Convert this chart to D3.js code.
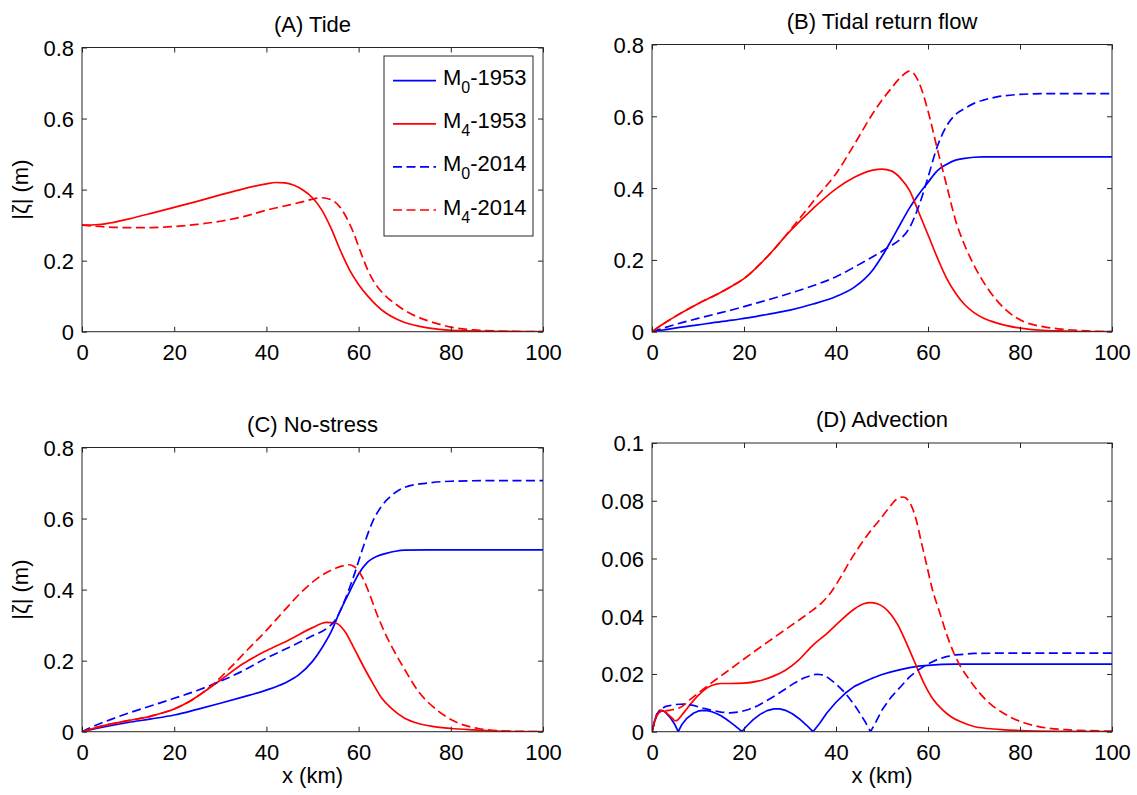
<!DOCTYPE html>
<html>
<head>
<meta charset="utf-8">
<script src="https://cdn.jsdelivr.net/npm/d3@7"></script>
<style>
  html, body { margin: 0; padding: 0; background: #fff; }
  svg { display: block; }
  text { font-family: "Liberation Sans", Arial, sans-serif; fill: #000; }
</style>
</head>
<body>
<svg id="chart" width="1137" height="795"></svg>
<script>
// ---------------- DATA ----------------
const panelTitles = ["(A) Tide", "(B) Tidal return flow", "(C) No-stress", "(D) Advection"];
const xTicks = [0, 20, 40, 60, 80, 100];
const xTickLabels = ["0", "20", "40", "60", "80", "100"];
const yTicksMain = [0, 0.2, 0.4, 0.6, 0.8];
const yTickLabelsMain = ["0", "0.2", "0.4", "0.6", "0.8"];
const yTicksAdv = [0, 0.02, 0.04, 0.06, 0.08, 0.1];
const yTickLabelsAdv = ["0", "0.02", "0.04", "0.06", "0.08", "0.1"];
const legendMain = ["M", "M", "M", "M"];
const legendSub = ["0", "4", "0", "4"];
const legendYear = ["-1953", "-1953", "-2014", "-2014"];
const xLabel = "x (km)";
const yLabel = "|\u03B6| (m)";

// (A) Tide
const A_M4_1953_x = [0,3,6,10,15,20,25,30,35,40,42,44,46,48,50,52,54,56,58,60,62,64,66,68,70,75,80,90,100];
const A_M4_1953_y = [0.300,0.301,0.306,0.317,0.333,0.350,0.367,0.385,0.402,0.416,0.420,0.419,0.412,0.398,0.377,0.343,0.292,0.230,0.175,0.133,0.100,0.073,0.052,0.037,0.026,0.011,0.004,0.001,0];
const A_M4_2014_x = [0,5,10,15,20,25,30,35,40,45,48,50,52,54,56,57,58,59,60,61,62,63,64,66,68,70,72,75,80,85,90,100];
const A_M4_2014_y = [0.300,0.295,0.293,0.293,0.296,0.302,0.311,0.324,0.342,0.357,0.366,0.373,0.377,0.372,0.350,0.330,0.305,0.275,0.240,0.205,0.173,0.148,0.128,0.099,0.078,0.060,0.046,0.031,0.013,0.005,0.002,0];

// (B) Tidal return flow
const B_x = [0,2,5,10,15,17.5,20,22.5,25,30,35,40,44,48,50,52,54,56,58,60,62,64,66,68,70,72,75,80,85,90,100];
const B_M0_1953_y = [0,0.004,0.010,0.019,0.028,0.032,0.037,0.042,0.048,0.060,0.077,0.098,0.124,0.172,0.210,0.254,0.300,0.345,0.383,0.416,0.448,0.466,0.478,0.483,0.486,0.487,0.487,0.487,0.487,0.487,0.487];
const B_M0_2014_y = [0,0.008,0.020,0.037,0.053,0.061,0.070,0.079,0.088,0.107,0.128,0.153,0.180,0.209,0.224,0.240,0.258,0.290,0.350,0.430,0.515,0.572,0.605,0.622,0.636,0.645,0.654,0.661,0.663,0.663,0.663];
const B_M4_1953_y = [0,0.018,0.042,0.078,0.110,0.128,0.148,0.176,0.208,0.280,0.343,0.398,0.430,0.450,0.453,0.448,0.428,0.393,0.332,0.270,0.207,0.150,0.107,0.075,0.053,0.038,0.024,0.010,0.004,0.002,0];
const B_M4_2014_x = [0,2,5,10,15,17.5,20,22.5,25,30,33,36,40,44,48,52,54,56,57,58,60,62,64,66,68,70,73,77,81,85,90,100];
const B_M4_2014_y = [0,0.018,0.042,0.078,0.110,0.128,0.148,0.176,0.208,0.282,0.330,0.378,0.440,0.522,0.608,0.678,0.708,0.726,0.718,0.695,0.615,0.510,0.410,0.310,0.240,0.185,0.120,0.060,0.027,0.014,0.006,0];

// (C) No-stress
const C_M0_1953_x = [0,5,10,15,20,25,30,35,40,44,47,50,52,54,56,58,60,62,64,66,68,70,75,80,100];
const C_M0_1953_y = [0,0.014,0.026,0.036,0.047,0.063,0.080,0.098,0.117,0.137,0.160,0.198,0.235,0.280,0.340,0.393,0.444,0.478,0.494,0.502,0.508,0.511,0.512,0.512,0.512];
const C_M0_2014_x = [0,3,7,10,15,20,25,30,35,40,45,50,53,55,57,59,61,63,65,67,70,75,80,90,100];
const C_M0_2014_y = [0,0.018,0.038,0.052,0.073,0.094,0.116,0.142,0.172,0.207,0.238,0.270,0.290,0.315,0.370,0.440,0.520,0.590,0.635,0.663,0.688,0.700,0.705,0.707,0.707];
const C_M4_1953_x = [0,5,10,15,20,23,26,30,35,40,45,50,53,55,57,59,61,63,65,67,70,73,76,80,85,90,100];
const C_M4_1953_y = [0,0.018,0.031,0.044,0.064,0.083,0.108,0.145,0.192,0.228,0.259,0.293,0.308,0.306,0.283,0.235,0.185,0.138,0.095,0.067,0.038,0.023,0.015,0.009,0.005,0.002,0];
const C_M4_2014_x = [0,5,10,15,20,23,26,29,32,36,40,44,48,52,55,57,58,59,60,61,62,64,66,68,70,73,77,81,86,92,100];
const C_M4_2014_y = [0,0.018,0.031,0.044,0.064,0.083,0.108,0.140,0.178,0.232,0.285,0.343,0.398,0.440,0.460,0.468,0.470,0.465,0.452,0.430,0.400,0.330,0.270,0.220,0.175,0.113,0.061,0.028,0.009,0.002,0];

// (D) Advection
const D_M0_1953_x = [0,0.5,1,1.5,2,2.5,3,4,5,5.7,6.5,7.5,9,10,11,12,13,14,15,16,17,18,19,19.5,20.5,22,23.5,25,26.5,27.8,29,30.5,32,33.5,35,36.5,38,40,42,44,46,48,50,52,54,56,58,60,63,66,70,80,90,100];
const D_M0_1953_y = [0,0.0035,0.0055,0.0068,0.0073,0.0072,0.0066,0.0048,0.0024,0,0.0025,0.0045,0.0064,0.0071,0.0074,0.0073,0.0069,0.0063,0.0055,0.0045,0.0033,0.0021,0.0008,0,0.0018,0.0042,0.0060,0.0073,0.0079,0.0079,0.0074,0.0062,0.0045,0.0024,0,0.0030,0.0065,0.0102,0.0133,0.0157,0.0172,0.0186,0.0198,0.0207,0.0215,0.0222,0.0227,0.0230,0.0233,0.0234,0.0234,0.0234,0.0234,0.0234];
const D_M0_2014_x = [0,1,2,3,5,7,9,11,13,15,17,19,21,23,25,27,29,31,33,35,36,37,38,40,42,44,45.5,46.5,47.5,48.5,50,52,54,56,58,60,62,64,66,70,75,100];
const D_M0_2014_y = [0,0.0060,0.0078,0.0088,0.0094,0.0096,0.0091,0.0082,0.0074,0.0068,0.0065,0.0068,0.0077,0.0090,0.0108,0.0127,0.0148,0.0169,0.0186,0.0197,0.0199,0.0197,0.0190,0.0166,0.0134,0.0093,0.0056,0.0030,0,0.0028,0.0075,0.0120,0.0155,0.0190,0.0215,0.0235,0.0250,0.0260,0.0266,0.0271,0.0272,0.0272];
const D_M4_1953_x = [0,0.5,1,1.7,2.5,3.5,4.5,5,5.5,6.5,7.5,8.5,10,11,12,13,14,15,17,20,23,26,29,32,35,38,41,44,46,47.5,49,50.5,52,53.5,55,57,59,61,63,65,67,70,73,76,80,90,100];
const D_M4_1953_y = [0,0.0030,0.0055,0.0075,0.0072,0.0060,0.0045,0.0038,0.0040,0.0058,0.0078,0.0098,0.0125,0.0140,0.0152,0.0160,0.0165,0.0167,0.0167,0.0168,0.0175,0.0190,0.0213,0.0250,0.0300,0.0340,0.0385,0.0425,0.0443,0.0447,0.0443,0.0430,0.0405,0.0368,0.0318,0.0245,0.0172,0.0115,0.0078,0.0052,0.0035,0.0018,0.0011,0.0007,0.0004,0.0001,0];
const D_M4_2014_x = [0,1,2,3,4,5,6,7,8.2,10,13,16,19,22,26,30,34,37,39,41,43,45,47,49.5,51.5,53,54.6,56,57.5,58.5,59.6,61,62.5,64,65.5,67,69,71,73.4,76,78.5,81,84.3,90,100];
const D_M4_2014_y = [0,0.0055,0.0070,0.0072,0.0075,0.0078,0.0083,0.0093,0.0110,0.0133,0.0170,0.0205,0.0240,0.0275,0.0320,0.0365,0.0410,0.0448,0.0485,0.0535,0.0590,0.0640,0.0685,0.0734,0.0775,0.0803,0.0813,0.0795,0.0730,0.0660,0.0585,0.0490,0.0415,0.0340,0.0277,0.0228,0.0180,0.0138,0.0098,0.0068,0.0046,0.0030,0.0017,0.0007,0.0002];

// ---------------- DRAWING ----------------
const BLUE = "#0000ff", RED = "#ff0000", AXIS = "#262626";
const FONT = 22;
const DASH = "9,4.5";

function zipXY(xs, ys) { return xs.map((x, i) => ({x: x, y: ys[i]})); }

const panels = [
  { title: panelTitles[0], box: {l: 82, r: 543, t: 47.5, b: 331.7}, yMax: 0.8, yTicks: yTicksMain, yLabels: yTickLabelsMain, showY: true, showX: false, legend: true,
    series: [
      {pts: zipXY(A_M4_1953_x, A_M4_1953_y), color: RED, dash: null},
      {pts: zipXY(A_M4_2014_x, A_M4_2014_y), color: RED, dash: DASH}
    ] },
  { title: panelTitles[1], box: {l: 652, r: 1112, t: 44.5, b: 331.7}, yMax: 0.8, yTicks: yTicksMain, yLabels: yTickLabelsMain, showY: false, showX: false,
    series: [
      {pts: zipXY(B_x, B_M0_1953_y), color: BLUE, dash: null},
      {pts: zipXY(B_x, B_M4_1953_y), color: RED, dash: null},
      {pts: zipXY(B_x, B_M0_2014_y), color: BLUE, dash: DASH},
      {pts: zipXY(B_M4_2014_x, B_M4_2014_y), color: RED, dash: DASH}
    ] },
  { title: panelTitles[2], box: {l: 82, r: 543, t: 447.5, b: 731.7}, yMax: 0.8, yTicks: yTicksMain, yLabels: yTickLabelsMain, showY: true, showX: true,
    series: [
      {pts: zipXY(C_M0_1953_x, C_M0_1953_y), color: BLUE, dash: null},
      {pts: zipXY(C_M4_1953_x, C_M4_1953_y), color: RED, dash: null},
      {pts: zipXY(C_M0_2014_x, C_M0_2014_y), color: BLUE, dash: DASH},
      {pts: zipXY(C_M4_2014_x, C_M4_2014_y), color: RED, dash: DASH}
    ] },
  { title: panelTitles[3], box: {l: 652, r: 1112, t: 443, b: 731.7}, yMax: 0.1, yTicks: yTicksAdv, yLabels: yTickLabelsAdv, showY: false, showX: true,
    series: [
      {pts: zipXY(D_M0_1953_x, D_M0_1953_y), color: BLUE, dash: null, linear: true},
      {pts: zipXY(D_M4_1953_x, D_M4_1953_y), color: RED, dash: null},
      {pts: zipXY(D_M0_2014_x, D_M0_2014_y), color: BLUE, dash: DASH, linear: true},
      {pts: zipXY(D_M4_2014_x, D_M4_2014_y), color: RED, dash: DASH}
    ] }
];

const svg = d3.select("#chart");
const tickLen = 5;

panels.forEach((p, pi) => {
  const {l, r, t, b} = p.box;
  const x = d3.scaleLinear().domain([0, 100]).range([l, r]);
  const y = d3.scaleLinear().domain([0, p.yMax]).range([b, t]);
  const g = svg.append("g");

  const clipId = "clip" + pi;
  svg.append("clipPath").attr("id", clipId).append("rect")
    .attr("x", l).attr("y", t).attr("width", r - l).attr("height", b - t);

  const curves = g.append("g").attr("clip-path", "url(#" + clipId + ")");
  p.series.forEach(s => {
    const line = d3.line().x(d => x(d.x)).y(d => y(d.y))
      .curve(s.linear ? d3.curveLinear : d3.curveMonotoneX);
    curves.append("path").datum(s.pts)
      .attr("d", line)
      .attr("fill", "none")
      .attr("stroke", s.color)
      .attr("stroke-width", 1.7)
      .attr("stroke-linejoin", "round")
      .attr("stroke-dasharray", s.dash);
  });

  const axB = d3.axisBottom(x).tickValues(xTicks).tickSize(-tickLen).tickFormat((d, i) => xTickLabels[i]).tickPadding(13);
  const axT = d3.axisTop(x).tickValues(xTicks).tickSize(-tickLen).tickFormat("");
  const axL = d3.axisLeft(y).tickValues(p.yTicks).tickSize(-tickLen).tickFormat((d, i) => p.yLabels[i]).tickPadding(13);
  const axR = d3.axisRight(y).tickValues(p.yTicks).tickSize(-tickLen).tickFormat("");

  const gB = g.append("g").attr("transform", `translate(0,${b})`).call(axB);
  const gT = g.append("g").attr("transform", `translate(0,${t})`).call(axT);
  const gL = g.append("g").attr("transform", `translate(${l},0)`).call(axL);
  const gR = g.append("g").attr("transform", `translate(${r},0)`).call(axR);
  [gB, gT, gL, gR].forEach(ga => {
    ga.select(".domain").remove();
    ga.selectAll("line").attr("stroke", AXIS).attr("stroke-width", 1);
    ga.selectAll("text").attr("font-size", FONT).attr("font-family", '"Liberation Sans", Arial, sans-serif').attr("fill", "#000");
  });
  gB.selectAll("text").attr("dy", null).attr("y", 28.5).attr("dominant-baseline", "auto");
  gL.selectAll("text").attr("x", -8).attr("dy", "0.36em");

  g.append("rect").attr("x", l).attr("y", t).attr("width", r - l).attr("height", b - t)
    .attr("fill", "none").attr("stroke", AXIS).attr("stroke-width", 1);

  g.append("text").attr("x", (l + r) / 2).attr("y", t - 16)
    .attr("text-anchor", "middle").attr("font-size", FONT).text(p.title);

  if (p.showX) {
    g.append("text").attr("x", (l + r) / 2).attr("y", b + 51.5)
      .attr("text-anchor", "middle").attr("font-size", FONT).text(xLabel);
  }
  if (p.showY) {
    g.append("text").attr("transform", `translate(28,${(t + b) / 2}) rotate(-90)`)
      .attr("text-anchor", "middle").attr("font-size", FONT).text(yLabel);
  }

  if (p.legend) {
    const lg = g.append("g");
    lg.append("rect").attr("x", 384).attr("y", 56).attr("width", 149).attr("height", 180)
      .attr("fill", "#fff").attr("stroke", AXIS).attr("stroke-width", 1);
    const colors = [BLUE, RED, BLUE, RED];
    const dashes = [null, null, DASH, DASH];
    legendMain.forEach((m, i) => {
      const ly = 80.7 + i * 43.1;
      lg.append("line").attr("x1", 393).attr("x2", 436).attr("y1", ly).attr("y2", ly)
        .attr("stroke", colors[i]).attr("stroke-width", 1.7).attr("stroke-dasharray", dashes[i]);
      const tx = lg.append("text").attr("x", 443).attr("y", ly + 4.5).attr("font-size", FONT);
      tx.append("tspan").text(m);
      tx.append("tspan").attr("font-size", 16).attr("dy", 8).text(legendSub[i]);
      tx.append("tspan").attr("dy", -8).text(legendYear[i]);
    });
  }
});
</script>
</body>
</html>
